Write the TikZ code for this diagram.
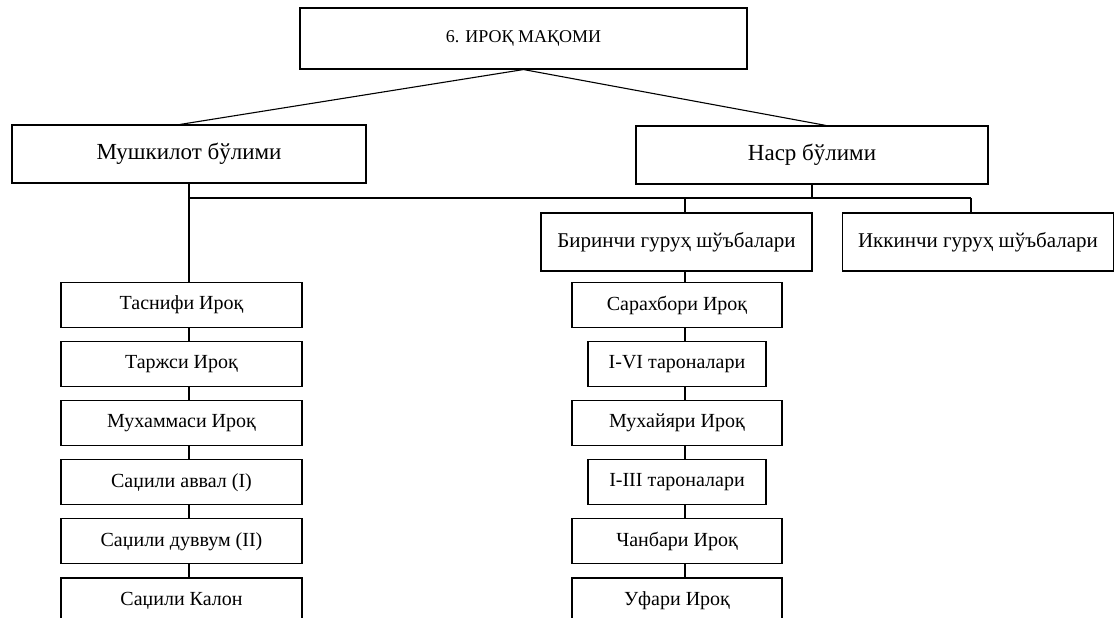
\documentclass[tikz,border=0pt]{standalone}
\usepackage{fontspec}
\setmainfont{Liberation Serif}
\usetikzlibrary{positioning}

\tikzstyle{title} = [draw, line width=1.1pt, minimum width=447pt, minimum height=61pt, inner sep=0pt, font=\fontsize{18}{21}\selectfont]
\tikzstyle{part} = [draw, line width=1.1pt, minimum height=58pt, inner sep=0pt, font=\fontsize{23}{27}\selectfont]
\tikzstyle{group} = [draw, line width=1.1pt, minimum width=271pt, minimum height=58pt, inner sep=0pt, font=\fontsize{21}{25}\selectfont]
\tikzstyle{item} = [draw, line width=1.1pt, minimum width=241pt, minimum height=45pt, inner sep=0pt, font=\fontsize{20}{24}\selectfont]
\tikzstyle{wide} = [item, minimum width=210pt]
\tikzstyle{narrow} = [item, minimum width=178pt]
\tikzstyle{link} = [line width=1.1pt]

\begin{document}
\begin{tikzpicture}[x=1pt, y=-1pt]
\useasboundingbox (0,0) rectangle (1114,618);
%maqom
\node[title] (maqom) at (523.5,38.5) {6. ИРОҚ МАҚОМИ};
%begin bolimlar
\node[part, minimum width=354pt] (mush) at (189,154) {Мушкилот бўлими};
\node[part, minimum width=352pt] (nasr) at (812,155) {Наср бўлими};
\draw[link] (maqom.south) -- ([xshift=-9pt]mush.north);
\draw[link] (maqom.south) -- ([xshift=14pt]nasr.north);
%end bolimlar
%begin shobalar
\node[group] (bir) at (676.5,242) {Биринчи гуруҳ шўъбалари};
\node[group] (ikk) at (978,242) {Иккинчи гуруҳ шўъбалари};
\coordinate (bus) at (189,198);
\coordinate (dbir) at (685,198);
\coordinate (dikk) at (971,198);
\draw[link] (bus) -- (dikk);
\draw[link] (nasr.south) -- (nasr.south |- bus);
\draw[link] (dbir) -- (dbir |- bir.north);
\draw[link] (dikk) -- (dikk |- ikk.north);
%end shobalar
%begin mushkilot
\node[item] (t1) at (181.5,305) {Таснифи Ироқ};
\node[item, below=13pt of t1] (t2) {Таржси Ироқ};
\node[item, below=13pt of t2] (t3) {Мухаммаси Ироқ};
\node[item, below=13pt of t3] (t4) {Саџили аввал (I)};
\node[item, below=13pt of t4] (t5) {Саџили дуввум (II)};
\node[item, below=13pt of t5] (t6) {Саџили Калон};
\draw[link] (mush.south) -- (mush.south |- t1.north);
\foreach \a/\b in {t1/t2, t2/t3, t3/t4, t4/t5, t5/t6}
    \draw[link] (\a.south -| mush.south) -- (\b.north -| mush.south);
%end mushkilot
%begin nasr
\node[wide] (s1) at (677,305) {Сарахбори Ироқ};
\node[narrow, below=13pt of s1] (s2) {I-VI тароналари};
\node[wide, below=13pt of s2] (s3) {Мухайяри Ироқ};
\node[narrow, below=13pt of s3] (s4) {I-III тароналари};
\node[wide, below=13pt of s4] (s5) {Чанбари Ироқ};
\node[wide, below=13pt of s5] (s6) {Уфари Ироқ};
\draw[link] (dbir |- bir.south) -- (dbir |- s1.north);
\foreach \a/\b in {s1/s2, s2/s3, s3/s4, s4/s5, s5/s6}
    \draw[link] (\a.south -| dbir) -- (\b.north -| dbir);
%end nasr
\end{tikzpicture}
\end{document}
